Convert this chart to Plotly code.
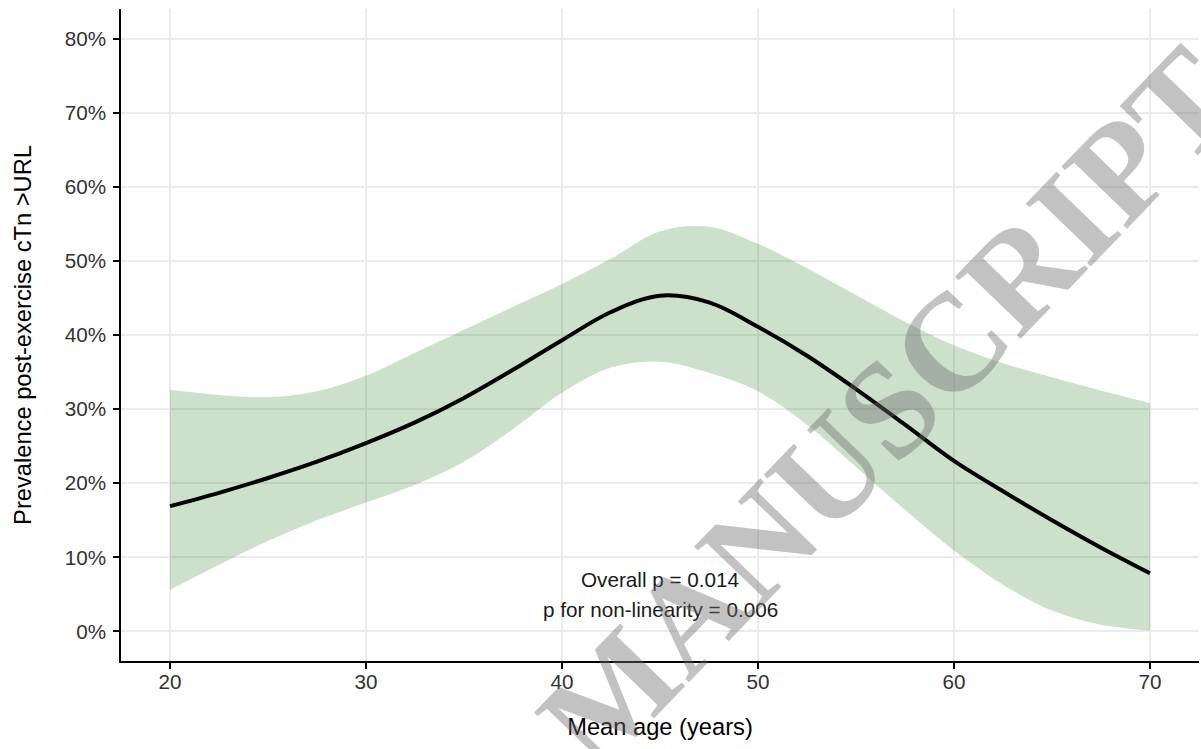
import plotly.graph_objects as go

# ---- data ----
ages = [20, 22.5, 25, 27.5, 30, 32.5, 35, 37.5, 40, 42.5, 45, 47.5, 50,
        52.5, 55, 57.5, 60, 62.5, 65, 67.5, 70]
prevalence_pct = [16.9, 18.7, 20.7, 22.9, 25.4, 28.2, 31.5, 35.3, 39.3, 43.1, 45.3,
                  44.4, 41.1, 37.2, 32.7, 27.9, 23.0, 18.9, 15.0, 11.3, 7.85]
upper_pct = [32.6, 31.9, 31.6, 32.4, 34.5, 37.6, 40.7, 43.8, 46.9, 50.3, 54.0,
             54.6, 52.3, 49.0, 45.4, 41.8, 38.6, 36.2, 34.3, 32.5, 30.8]
lower_pct = [5.6, 9.0, 12.2, 15.0, 17.4, 19.8, 22.9, 27.3, 32.2, 35.6, 36.4,
             34.9, 32.4, 27.9, 22.2, 16.4, 10.9, 6.3, 2.8, 0.9, 0.1]

x_ticks = [20, 30, 40, 50, 60, 70]
y_ticks = [0, 0.1, 0.2, 0.3, 0.4, 0.5, 0.6, 0.7, 0.8]

stats_lines = ["Overall p = 0.014", "p for non-linearity = 0.006"]

prev = [v / 100 for v in prevalence_pct]
upper = [v / 100 for v in upper_pct]
lower = [v / 100 for v in lower_pct]

FONT = "Liberation Sans, Arial, Helvetica, sans-serif"
ribbon = "rgba(0,100,0,0.2)"

fig = go.Figure()
fig.add_trace(go.Scatter(x=ages, y=lower, mode="lines",
                         line=dict(width=0, shape="spline", color=ribbon),
                         hoverinfo="skip", showlegend=False))
fig.add_trace(go.Scatter(x=ages, y=upper, mode="lines", fill="tonexty",
                         fillcolor=ribbon,
                         line=dict(width=0, shape="spline", color=ribbon),
                         hoverinfo="skip", showlegend=False))
fig.add_trace(go.Scatter(x=ages, y=prev, mode="lines",
                         line=dict(width=4, color="black", shape="spline"),
                         showlegend=False))

# statistics annotation
fig.add_annotation(x=45, y=0.0697, xref="x", yref="y", text=stats_lines[0],
                   showarrow=False, xanchor="center", yanchor="middle",
                   font=dict(family=FONT, size=20.7, color="#1a1a1a"))
fig.add_annotation(x=45, y=0.030, xref="x", yref="y", text=stats_lines[1],
                   showarrow=False, xanchor="center", yanchor="middle",
                   font=dict(family=FONT, size=20.7, color="#1a1a1a"))

# watermark
fig.add_annotation(x=0.712, y=0.388, xref="paper", yref="paper",
                   text="<b>MANUSCRIPT</b>", showarrow=False, textangle=-46,
                   xanchor="center", yanchor="middle",
                   font=dict(family="Liberation Serif, Times New Roman, serif",
                             size=138, color="rgba(110,110,110,0.42)"))

axis_common = dict(
    showline=True, linecolor="black", linewidth=2.2,
    ticks="outside", ticklen=5.5, tickwidth=2, tickcolor="black",
    showgrid=True, gridcolor="#ebebeb", gridwidth=1.8,
    zeroline=False, mirror=False, automargin=False,
    tickfont=dict(family=FONT, size=20.7, color="#333333"),
)

fig.update_xaxes(range=[17.5, 72.5], tickvals=x_ticks, ticklabelstandoff=-4,
                 title=dict(text="Mean age (years)", standoff=26,
                            font=dict(family=FONT, size=23.7, color="black")),
                 **axis_common)
fig.update_yaxes(range=[-0.04, 0.84], tickvals=y_ticks, tickformat=".0%",
                 ticklabelstandoff=3,
                 title=dict(text="Prevalence post-exercise cTn >URL", standoff=27,
                            font=dict(family=FONT, size=23.7, color="black")),
                 **axis_common)

fig.update_layout(
    width=1201, height=749,
    margin=dict(l=121, r=2, t=9, b=88, autoexpand=False),
    plot_bgcolor="white", paper_bgcolor="white",
    font=dict(family=FONT),
)

fig.write_html("out.html",
               config={"displayModeBar": False},
               post_script="document.body.style.margin='0';"
                           "document.body.style.overflow='hidden';")
